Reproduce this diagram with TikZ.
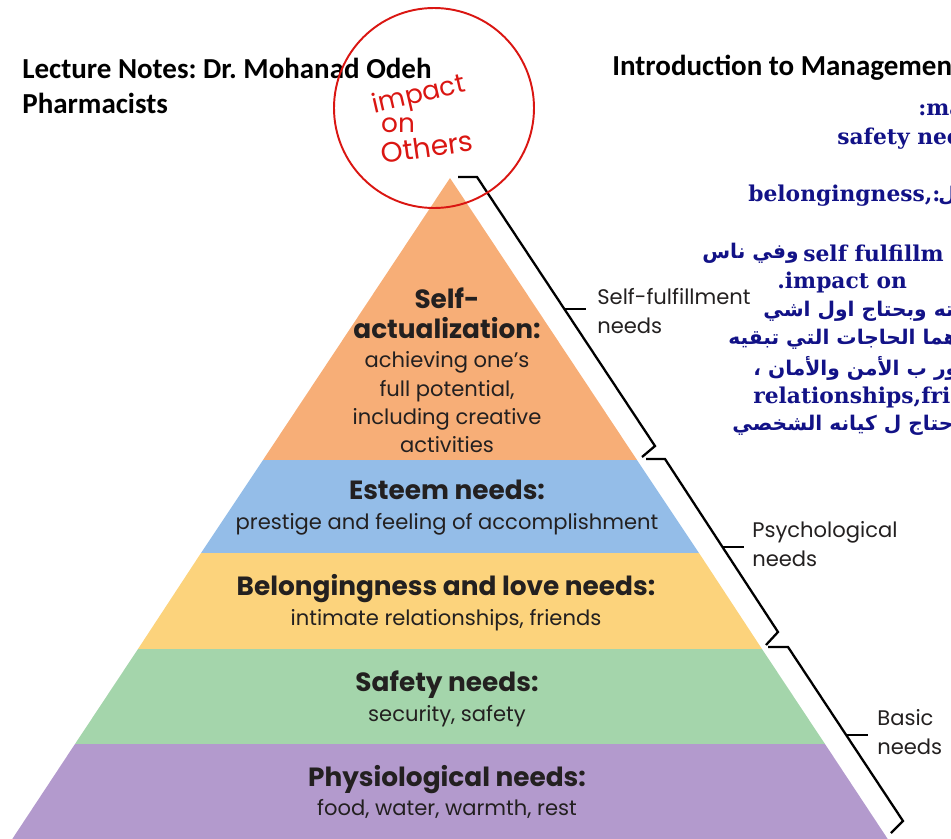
\documentclass[tikz,border=0pt]{standalone}
\usepackage{fontspec}
\setmainfont{Poppins}
\newfontfamily\headfont{Carlito}
\newfontfamily\notefont{DejaVu Serif}
\newfontfamily\arabicfont[Script=Arabic]{DejaVu Sans}
\TeXXeTstate=1
\frenchspacing

% band colours of the pyramid
\definecolor{selfcol}{RGB}{247,174,119}
\definecolor{esteemcol}{RGB}{148,189,232}
\definecolor{lovecol}{RGB}{252,211,124}
\definecolor{safecol}{RGB}{164,213,171}
\definecolor{physcol}{RGB}{179,154,205}
\definecolor{notecol}{RGB}{18,18,135}
\definecolor{inkred}{RGB}{218,22,18}
\definecolor{textgray}{RGB}{35,32,32}

% bold heading line inside a band
\newcommand{\needname}[1]{{\fontsize{15}{16}\selectfont\bfseries #1}}

\tikzset{
  head/.style={anchor=west, inner sep=0pt, font=\headfont\bfseries\fontsize{16.5}{20}\selectfont},
  band text/.style={align=center, inner sep=0pt, text=textgray, font=\fontsize{12}{16}\selectfont},
  side label/.style={anchor=west, align=left, inner sep=0pt, text=textgray, font=\fontsize{12}{16.5}\selectfont},
  note/.style={inner sep=0pt, text=notecol, font=\notefont\bfseries\fontsize{12.4}{14}\selectfont},
  arnote/.style={inner sep=0pt, text=notecol, font=\arabicfont\bfseries\fontsize{11.5}{14}\selectfont},
  brace line/.style={line width=1.3pt, line join=miter},
  scribble/.style={inner sep=0pt, text=inkred, font=\fontsize{15}{15}\selectfont}
}

\begin{document}
\begin{tikzpicture}[x=0.02cm, y=-0.02cm]
    \useasboundingbox (0,0) rectangle (951,839);

    % Pyramid bands, top to bottom
    \fill[selfcol]   (450,178) -- (637,460) -- (263,460) -- cycle;
    \fill[esteemcol] (263,460) -- (637,460) -- (699,553) -- (201,553) -- cycle;
    \fill[lovecol]   (201,553) -- (699,553) -- (762,649) -- (138,649) -- cycle;
    \fill[safecol]   (138,649) -- (762,649) -- (825,744) -- (75,744) -- cycle;
    \fill[physcol]   (75,744) -- (825,744) -- (895,850) -- (5,850) -- cycle;

    % Band texts
    \node[band text] (selfact) at (447,370)
      {\needname{Self-}\\[1pt]\needname{actualization:}\\[1pt]achieving one’s\\full potential,\\including creative\\activities};
    \node[band text] (esteem) at (447,508)
      {\needname{Esteem needs:}\\[1pt]prestige and feeling of accomplishment};
    \node[band text] (love) at (446,603)
      {\needname{Belongingness and love needs:}\\[1pt]intimate relationships, friends};
    \node[band text] (safety) at (447,699)
      {\needname{Safety needs:}\\[1pt]security, safety};
    \node[band text] (physio) at (447,792)
      {\needname{Physiological needs:}\\[1pt]food, water, warmth, rest};

    % Brackets along the right side
    \draw[brace line] (458,177) -- (477,177) -- (655,446) -- (642,457);
    \draw[brace line] (646,459) -- (665,459) -- (778,632) -- (766,645);
    \draw[brace line] (768,647) -- (788,647) -- (903,821) -- (891,833);
    \draw[brace line] (564,309) -- (586,309);
    \draw[brace line] (722,547) -- (744,547);
    \draw[brace line] (846,735) -- (868,735);

    \node[side label] (fulfil) at (597,311) {Self-fulfillment\\needs};
    \node[side label] (psych) at (752,544) {Psychological\\needs};
    \node[side label] (basic) at (877,732) {Basic\\needs};

    % Page header
    \node[head] (lecturer) at (22,68) {Lecture Notes: Dr. Mohanad Odeh};
    \node[head] (audience) at (22,103) {Pharmacists};
    \node[head] (course) at (612,68) {Introduction to Management};

    % Side notes
    \node[note, anchor=west] (n1) at (918,110) {:ma};
    \node[note, anchor=west] (n2) at (837,139) {safety need};
    \node[note, anchor=west] (n3) at (748,196) {belongingness,:};
    \node[arnote, anchor=west] (n3a) at (938,196) {\beginR ـل\endR};
    \node[arnote, anchor=east] (n4a) at (799,253) {\beginR وفي ناس\endR};
    \node[note, anchor=west] (n4) at (803,253) {self fulfillm};
    \node[note, anchor=west] (n5) at (777,282) {.impact on};
    \node[arnote, anchor=west] (n6) at (763,311) {\beginR ته وبحتاج اول اشي\endR};
    \node[arnote, anchor=west] (n7) at (728,339) {\beginR هما الحاجات التي تبقيه\endR};
    \node[arnote, anchor=west] (n8) at (753,368) {\beginR عور ب الأمن والأمان ،\endR};
    \node[note, anchor=west] (n9) at (753,397) {relationships,frie};
    \node[arnote, anchor=west] (n10) at (732,425) {\beginR حتاج ل كيانه الشخصي\endR};

    % Red ink on top
    \draw[inkred, line width=1.1pt] (434,108) circle[radius=100];
    \node[scribble, rotate=13] (ink1) at (419,96) {impact};
    \node[scribble] (ink2) at (398,125) {on};
    \node[scribble, rotate=8, font=\fontsize{16}{16}\selectfont] (ink3) at (427,147) {Others};
\end{tikzpicture}
\end{document}
